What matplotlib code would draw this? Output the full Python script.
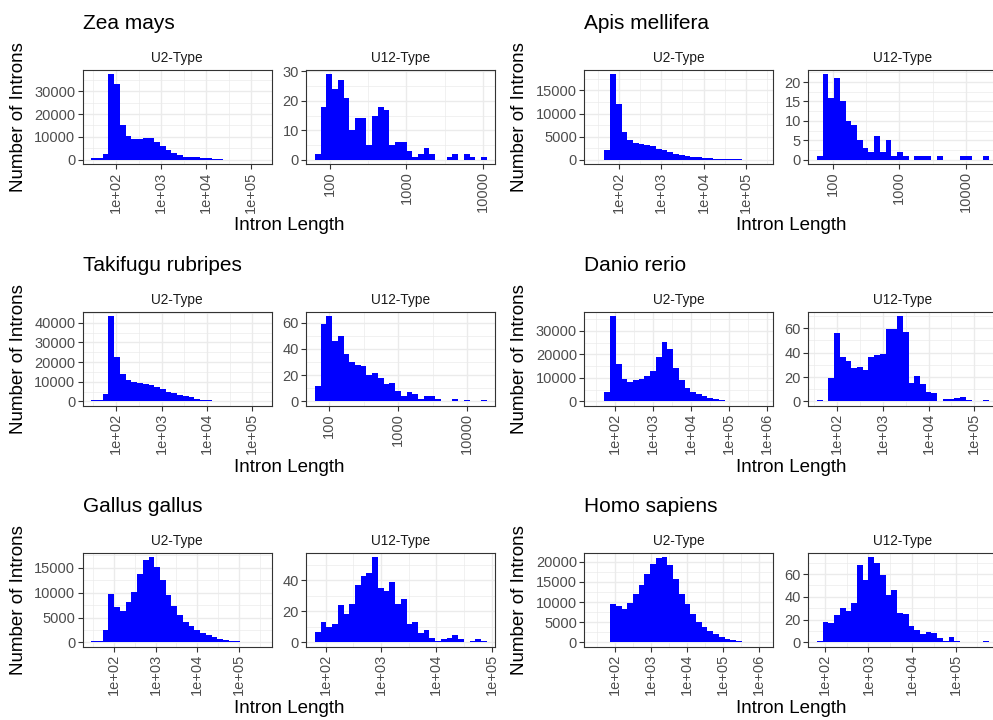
import matplotlib

matplotlib.use("Agg")
import matplotlib.pyplot as plt
import numpy as np
from matplotlib.ticker import FixedLocator, FuncFormatter, MultipleLocator, NullFormatter

plt.rcParams["font.family"] = ["Liberation Sans", "DejaVu Sans"]

W, H = 993, 720
BLUE = "#0000FF"
GRID = "#EBEBEB"
BORDER = "#333333"
TICKTXT = "#4D4D4D"

# log10 of the first/last bin edge of each histogram (30 bins each)
ZEA_U2_RANGE = (1.453, 5.26)
ZEA_U12_RANGE = (1.809, 4.044)
APIS_U2_RANGE = (1.389, 5.437)
APIS_U12_RANGE = (1.76, 4.345)
TAKI_U2_RANGE = (1.452, 5.24)
TAKI_U12_RANGE = (1.790, 4.287)
DANIO_U2_RANGE = (1.420, 5.946)
DANIO_U12_RANGE = (1.555, 5.315)
GALLUS_U2_RANGE = (1.463, 5.573)
GALLUS_U12_RANGE = (1.803, 4.911)
HOMO_U2_RANGE = (1.39, 6.154)
HOMO_U12_RANGE = (1.817, 5.762)

# intron counts per bin
ZEA_U2 = [600, 600, 2300, 37400, 33200, 15300, 10200, 9100, 9100, 9500,
          9300, 7600, 5900, 4300, 2900, 1900, 1400, 1150, 1000, 850,
          600, 300, 120, 60, 30, 15, 8, 4, 2, 1]
ZEA_U12 = [2, 18, 29, 24, 27, 21, 10, 14, 14, 5, 15, 18, 17, 5, 6,
           6, 3, 1, 2, 4, 2, 0, 0, 1, 2, 0, 2, 1, 0, 1]
APIS_U2 = [5, 15, 2100, 18500, 12000, 6000, 4200, 3700, 3500, 3200,
           2900, 2400, 2000, 1600, 1200, 950, 800, 650, 500, 400,
           300, 220, 180, 140, 100, 60, 40, 20, 10, 5]
APIS_U12 = [1, 22, 16, 21, 15, 10, 9, 5, 3, 2, 6, 2, 5, 1, 2,
            1, 0, 1, 1, 1, 0, 1, 0, 0, 0, 1, 1, 0, 0, 1]
TAKI_U2 = [800, 800, 3900, 43500, 22600, 13800, 11100, 9800, 9600, 9100,
           8300, 7300, 6100, 4900, 4100, 3400, 2700, 2000, 1350, 850,
           550, 400, 250, 150, 100, 50, 30, 15, 8, 3]
TAKI_U12 = [12, 59, 65, 46, 50, 36, 30, 28, 27, 20, 22, 18, 13, 14, 8,
            4, 7, 6, 2, 4, 4, 2, 0, 0, 2, 0, 1, 0, 0, 1]
DANIO_U2 = [150, 150, 3800, 36300, 15800, 9700, 8200, 8900, 9700, 11000,
            13000, 18900, 25200, 22400, 14200, 9200, 5900, 4200, 3000, 2100,
            1400, 1000, 600, 350, 200, 120, 60, 30, 10, 5]
DANIO_U12 = [1, 0, 19, 56, 36, 33, 27, 28, 26, 36, 38, 39, 59, 59, 70,
             57, 15, 21, 14, 8, 7, 0, 2, 2, 3, 4, 1, 0, 0, 1]
GALLUS_U2 = [270, 270, 2600, 9800, 7100, 6300, 8100, 10100, 13700, 16500,
             17200, 15200, 12500, 9500, 7400, 5600, 4200, 3300, 2550, 1950,
             1400, 1000, 750, 550, 350, 250, 150, 100, 50, 20]
GALLUS_U12 = [7, 13, 10, 12, 24, 18, 25, 37, 43, 45, 55, 35, 33, 39, 25,
              28, 12, 13, 6, 8, 3, 1, 2, 3, 5, 2, 0, 1, 2, 1]
HOMO_U2 = [20, 80, 80, 9400, 9100, 8200, 9800, 11900, 14100, 16900,
           19500, 21000, 21150, 19100, 15600, 11900, 9400, 7000, 5000, 3700,
           2800, 2000, 1250, 750, 500, 300, 150, 60, 20, 5]
HOMO_U12 = [1, 18, 17, 24, 30, 28, 35, 68, 55, 75, 70, 59, 42, 46, 26,
            25, 14, 11, 7, 9, 8, 4, 1, 5, 1, 0, 0, 0, 0, 1]

FACETS = [
    ("Zea mays", (ZEA_U2_RANGE, ZEA_U2), (ZEA_U12_RANGE, ZEA_U12)),
    ("Apis mellifera", (APIS_U2_RANGE, APIS_U2), (APIS_U12_RANGE, APIS_U12)),
    ("Takifugu rubripes", (TAKI_U2_RANGE, TAKI_U2), (TAKI_U12_RANGE, TAKI_U12)),
    ("Danio rerio", (DANIO_U2_RANGE, DANIO_U2), (DANIO_U12_RANGE, DANIO_U12)),
    ("Gallus gallus", (GALLUS_U2_RANGE, GALLUS_U2), (GALLUS_U12_RANGE, GALLUS_U12)),
    ("Homo sapiens", (HOMO_U2_RANGE, HOMO_U2), (HOMO_U12_RANGE, HOMO_U12)),
]
Y_STEPS = {
    "Zea mays": (10000, 10),
    "Apis mellifera": (5000, 5),
    "Takifugu rubripes": (10000, 20),
    "Danio rerio": (10000, 20),
    "Gallus gallus": (5000, 20),
    "Homo sapiens": (5000, 20),
}
PLAIN_U12 = {"Zea mays", "Apis mellifera", "Takifugu rubripes"}

# layout in pixels (the right column is clipped by the image edge, like the original)
COL_X = [(82.7, 306.3), (584.3, 808.3)]
ROW_TOP = [70, 311.7, 552.7]
PW, PH = 189, 94


def _facet(fig, x, top, rng, counts, ystep, plain, strip):
    ax = fig.add_axes([x / W, 1 - (top + PH) / H, PW / W, PH / H])
    ax.set_xscale("log")
    lo, hi = rng
    edges = np.logspace(lo, hi, len(counts) + 1)
    ax.stairs(counts, edges, fill=True, color=BLUE, lw=0)
    pad = 0.05 * (hi - lo)
    ax.set_xlim(10 ** (lo - pad), 10 ** (hi + pad))
    ymax = max(counts)
    ax.set_ylim(-0.05 * ymax, 1.05 * ymax)

    ax.xaxis.set_major_locator(FixedLocator([10.0 ** k for k in range(1, 8)]))
    ax.xaxis.set_minor_locator(FixedLocator([10.0 ** (k + 0.5) for k in range(0, 8)]))
    fmt = (lambda v, _: f"{v:.0f}") if plain else (lambda v, _: f"{v:.0e}")
    ax.xaxis.set_major_formatter(FuncFormatter(fmt))
    ax.xaxis.set_minor_formatter(NullFormatter())
    ax.yaxis.set_major_locator(MultipleLocator(ystep))
    ax.yaxis.set_minor_locator(MultipleLocator(ystep / 2))

    ax.grid(which="major", color=GRID, lw=1.0)
    ax.grid(which="minor", color=GRID, lw=0.5)
    ax.set_axisbelow(True)
    ax.tick_params(which="minor", length=0)
    ax.tick_params(which="major", length=3.3, width=0.8, color=BORDER,
                   labelcolor=TICKTXT, labelsize=10.5, pad=2)
    ax.tick_params(axis="x", labelrotation=90)
    for s in ax.spines.values():
        s.set_color(BORDER)
        s.set_linewidth(0.8)
    ax.text(0.5, 1 + 12 / PH, strip, transform=ax.transAxes, ha="center",
            va="center", fontsize=9.8, color="#1A1A1A")
    return ax


fig = plt.figure(figsize=(W / 100, H / 100), dpi=100)

for i, (name, u2, u12) in enumerate(FACETS):
    row, col = divmod(i, 2)
    top = ROW_TOP[row]
    x2, x12 = COL_X[col]
    s2, s12 = Y_STEPS[name]
    _facet(fig, x2, top, u2[0], u2[1], s2, False, "U2-Type")
    _facet(fig, x12, top, u12[0], u12[1], s12, name in PLAIN_U12, "U12-Type")

    left = x2
    fig.text(left / W, 1 - (top - 41) / H, name, fontsize=15, ha="left",
             va="baseline", color="black")
    fig.text((x2 - 64.5) / W, 1 - (top + PH / 2) / H, "Number of Introns",
             rotation=90, fontsize=13.5, ha="center", va="center")
    fig.text(((x2 + x12 + PW) / 2) / W, 1 - (top + PH + 62) / H, "Intron Length",
             fontsize=13.5, ha="center", va="center")

fig.savefig("out.png", dpi=100)
